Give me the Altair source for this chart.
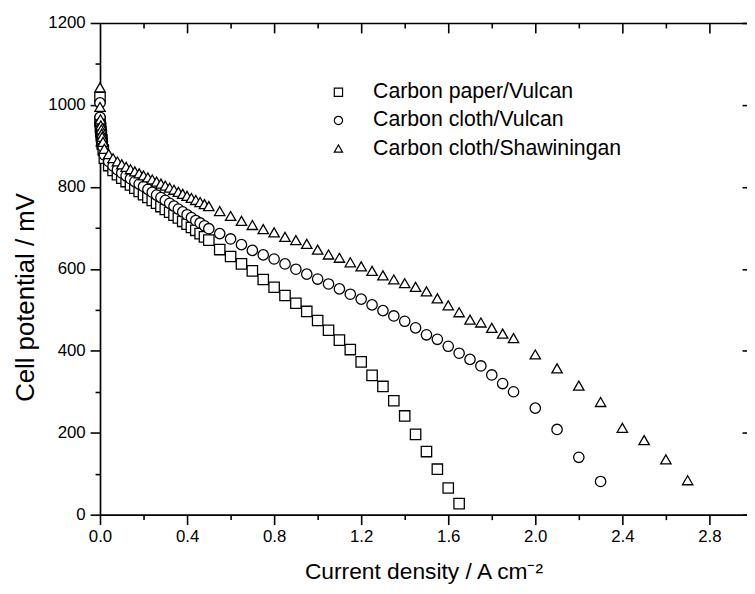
import altair as alt
import pandas as pd

# ---------------- data ----------------
series_names = ["Carbon paper/Vulcan", "Carbon cloth/Vulcan", "Carbon cloth/Shawiningan"]
series_shapes = ["square", "circle", "triangle-up"]

paper_x = [0, 0, 0.002, 0.004, 0.006, 0.008, 0.010, 0.015,
           0.02, 0.04, 0.06, 0.08, 0.10, 0.12, 0.14, 0.16, 0.18, 0.20,
           0.22, 0.24, 0.26, 0.28, 0.30, 0.32, 0.34, 0.36, 0.38, 0.40,
           0.42, 0.44, 0.46, 0.48, 0.50,
           0.55, 0.60, 0.65, 0.70, 0.75, 0.80, 0.85, 0.90, 0.95, 1.00,
           1.05, 1.10, 1.15, 1.20, 1.25, 1.30, 1.35, 1.40, 1.45, 1.50,
           1.55, 1.60, 1.65]
paper_y = [1018, 960, 945, 935, 925, 915, 905, 890,
           870, 852, 840, 830, 821, 813, 805, 797, 789, 781,
           774, 767, 760, 752, 745, 738, 731, 724, 716, 709,
           701, 694, 686, 678, 670,
           647, 630, 612, 595, 574, 555, 535, 516, 496, 474,
           450, 426, 403, 373, 340, 313, 278, 241, 196, 154,
           111, 65, 27]

cloth_x = [0, 0, 0.002, 0.004, 0.006, 0.008, 0.010, 0.014,
           0.02, 0.04, 0.06, 0.08, 0.10, 0.12, 0.14, 0.16, 0.18, 0.20,
           0.22, 0.24, 0.26, 0.28, 0.30, 0.32, 0.34, 0.36, 0.38, 0.40,
           0.42, 0.44, 0.46, 0.48, 0.50,
           0.55, 0.60, 0.65, 0.70, 0.75, 0.80, 0.85, 0.90, 0.95, 1.00,
           1.05, 1.10, 1.15, 1.20, 1.25, 1.30, 1.35, 1.40, 1.45, 1.50,
           1.55, 1.60, 1.65, 1.70, 1.75, 1.80, 1.85, 1.90,
           2.00, 2.10, 2.20, 2.30]
cloth_y = [1005, 970, 955, 942, 932, 922, 912, 898,
           878, 862, 851, 842, 834, 827, 820, 813, 807, 801,
           794, 787, 780, 774, 767, 760, 753, 746, 739, 732,
           725, 718, 712, 705, 698,
           686, 673, 659, 645, 634, 624, 612, 599, 587, 575,
           563, 551, 538, 526, 512, 498, 485, 472, 456, 439,
           428, 411, 394, 379, 363, 341, 320, 300,
           260, 208, 140, 81]

shaw_x = [0, 0, 0.002, 0.004, 0.006, 0.008, 0.010, 0.014,
          0.02, 0.04, 0.06, 0.08, 0.10, 0.12, 0.14, 0.16, 0.18, 0.20,
          0.22, 0.24, 0.26, 0.28, 0.30, 0.32, 0.34, 0.36, 0.38, 0.40,
          0.42, 0.44, 0.46, 0.48, 0.50,
          0.55, 0.60, 0.65, 0.70, 0.75, 0.80, 0.85, 0.90, 0.95, 1.00,
          1.05, 1.10, 1.15, 1.20, 1.25, 1.30, 1.35, 1.40, 1.45, 1.50,
          1.55, 1.60, 1.65, 1.70, 1.75, 1.80, 1.85, 1.90,
          2.00, 2.10, 2.20, 2.30, 2.40, 2.50, 2.60, 2.70]
shaw_y = [1043, 995, 965, 950, 940, 930, 922, 910,
          893, 880, 870, 862, 855, 849, 843, 838, 833, 828,
          823, 818, 813, 808, 803, 798, 793, 788, 783, 778,
          773, 768, 763, 758, 753,
          741, 729, 717, 707, 697, 689, 678, 670, 661, 647,
          635, 627, 616, 606, 595, 584, 574, 565, 556, 545,
          528, 511, 494, 476, 469, 456, 442, 431,
          391, 357, 315, 275, 212, 182, 135, 84]

x_major = [0.0, 0.4, 0.8, 1.2, 1.6, 2.0, 2.4, 2.8]
x_major_top = [0.4, 0.8, 1.2, 1.6, 2.0, 2.4, 2.8]
x_minor = [0.2, 0.6, 1.0, 1.4, 1.8, 2.2, 2.6]
y_major = [0, 200, 400, 600, 800, 1000, 1200]
y_minor = [100, 300, 500, 700, 900, 1100]

rows = []
for name, xs_, ys_ in zip(series_names, [paper_x, cloth_x, shaw_x], [paper_y, cloth_y, shaw_y]):
    for xv, yv in zip(xs_, ys_):
        rows.append({"series": name, "j": xv, "v": yv})
df = pd.DataFrame(rows)
legend_df = pd.DataFrame({"series": series_names})

FONT = "Liberation Sans"
W, H = 654, 497
XMAX = 654 / 220.0   # frame reaches 3.0, the image crops it just before

xs = alt.Scale(domain=[0, XMAX], nice=False, zero=False)
ys = alt.Scale(domain=[0, 1200], nice=False)
shape_scale = alt.Scale(domain=series_names, range=series_shapes)

common = dict(grid=False, domainColor="black", tickColor="black",
              tickWidth=1.6, domainWidth=1.7, labelColor="black",
              labelFont=FONT, titleFont=FONT, titleColor="black",
              titleFontWeight="normal")

pts = alt.Chart(df).mark_point(filled=True, fill="white", stroke="black",
                               strokeWidth=1.3, opacity=1, size=110).encode(
    x=alt.X("j:Q", scale=xs, axis=alt.Axis(
        orient="bottom", values=x_major, format=".1f", tickSize=10,
        labelFontSize=17, labelPadding=4, labelFlush=False,
        title="Current density / A cm⁻²", titleFontSize=23, titlePadding=17,
        **common)),
    y=alt.Y("v:Q", scale=ys, axis=alt.Axis(
        orient="left", values=y_major, format="d", tickSize=10,
        labelFontSize=17, labelPadding=5, labelFlush=False,
        title="Cell potential / mV", titleFontSize=26, titlePadding=9,
        titleY=277, **common)),
    shape=alt.Shape("series:N", scale=shape_scale, legend=None),
)

def axis_layer(xaxis, yaxis):
    return alt.Chart(df).mark_point(opacity=0).encode(
        x=alt.X("j:Q", scale=xs, axis=xaxis),
        y=alt.Y("v:Q", scale=ys, axis=yaxis),
    )

plain = dict(labels=False, domain=False, title=None, grid=False,
             tickColor="black", tickWidth=1.6)

minor_bl = axis_layer(alt.Axis(orient="bottom", values=x_minor, tickSize=5, **plain),
                      alt.Axis(orient="left", values=y_minor, tickSize=5, **plain))
top_major = axis_layer(alt.Axis(orient="top", values=x_major_top, tickSize=10, offset=-10, **plain),
                       alt.Axis(orient="right", values=y_major, tickSize=5, offset=-5, **plain))
top_minor = axis_layer(alt.Axis(orient="top", values=x_minor, tickSize=5, offset=-5, **plain),
                       None)
top_line = axis_layer(alt.Axis(orient="top", labels=False, ticks=False, title=None, grid=False,
                               domain=True, domainColor="black", domainWidth=1.7),
                      None)

# legend drawn as its own small layer (rows on a point scale)
leg_y = alt.Scale(type="point", domain=series_names, range=[70, 127], padding=0)
leg_pts = alt.Chart(legend_df).mark_point(filled=True, fill="white", stroke="black",
                                          strokeWidth=1.2, size=70, opacity=1).encode(
    x=alt.value(241),
    y=alt.Y("series:N", scale=leg_y, axis=None),
    shape=alt.Shape("series:N", scale=shape_scale, legend=None),
)
leg_txt = alt.Chart(legend_df).mark_text(align="left", baseline="middle", font=FONT,
                                         fontSize=21.5, color="black").encode(
    x=alt.value(276),
    y=alt.Y("series:N", scale=leg_y, axis=None),
    text="series:N",
)

chart = alt.layer(pts, minor_bl, top_major, top_minor, top_line, leg_pts, leg_txt).resolve_scale(
    y="independent"
).resolve_axis(
    x="independent", y="independent"
).properties(
    width=W, height=H,
    padding={"left": 93, "top": 12, "right": 0, "bottom": 74},
    autosize=alt.AutoSizeParams(type="none"),
    background="white",
).configure_view(strokeWidth=0, stroke=None)

chart.save("out.html", embed_options={"renderer": "svg", "actions": False})
